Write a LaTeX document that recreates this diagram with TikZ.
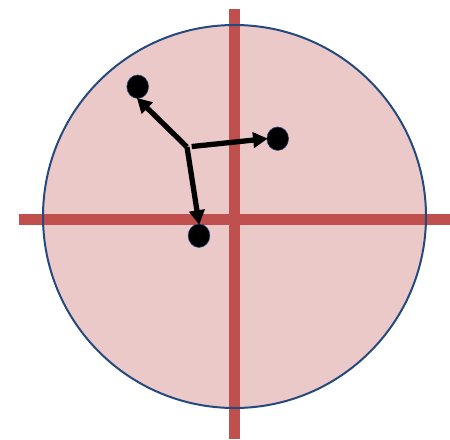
\documentclass[tikz,border=0pt]{standalone}
\usetikzlibrary{arrows.meta, shapes.geometric}

\definecolor{axisred}{HTML}{C0504D}
\definecolor{diskpink}{HTML}{ECC9C9}
\definecolor{diskblue}{HTML}{24497E}

\begin{document}
\begin{tikzpicture}[
    x=0.03cm, y=-0.03cm,
    disco/.style={draw=diskblue, line width=1.7pt, fill=diskpink},
    eje/.style={draw=axisred, line width=9.4pt},
    punto/.style={ellipse, draw=diskblue, line width=0.5pt, fill=black, inner sep=0pt, minimum width=18.5pt, minimum height=20pt},
    vector/.style={-{Triangle[length=12.5pt, width=13pt]}, line width=4.5pt, shorten >=-1pt},
]
\useasboundingbox (0,0) rectangle (450,439);

% disco de fondo
\fill [diskpink] (234.5,216.5) circle [radius=191.5];

% ejes
\draw [eje] (234.5,9) -- (234.5,439);
\draw [eje] (18.7,219) -- (450,219);

\draw [disco, fill=none] (234.5,216.5) circle [radius=191.5];

% puntos
\node (p1) [punto] at (137.7,86.7) {};
\node (p2) [punto] at (277.7,138.7) {};
\node (p3) [punto] at (199,235.7) {};

\coordinate (o) at (187,147);

\draw [vector] (o) -- (p1.south);
\draw [vector, shorten <=4pt] (o) -- (p2.west);
\draw [vector] (o) -- (p3.north);

\end{tikzpicture}
\end{document}
